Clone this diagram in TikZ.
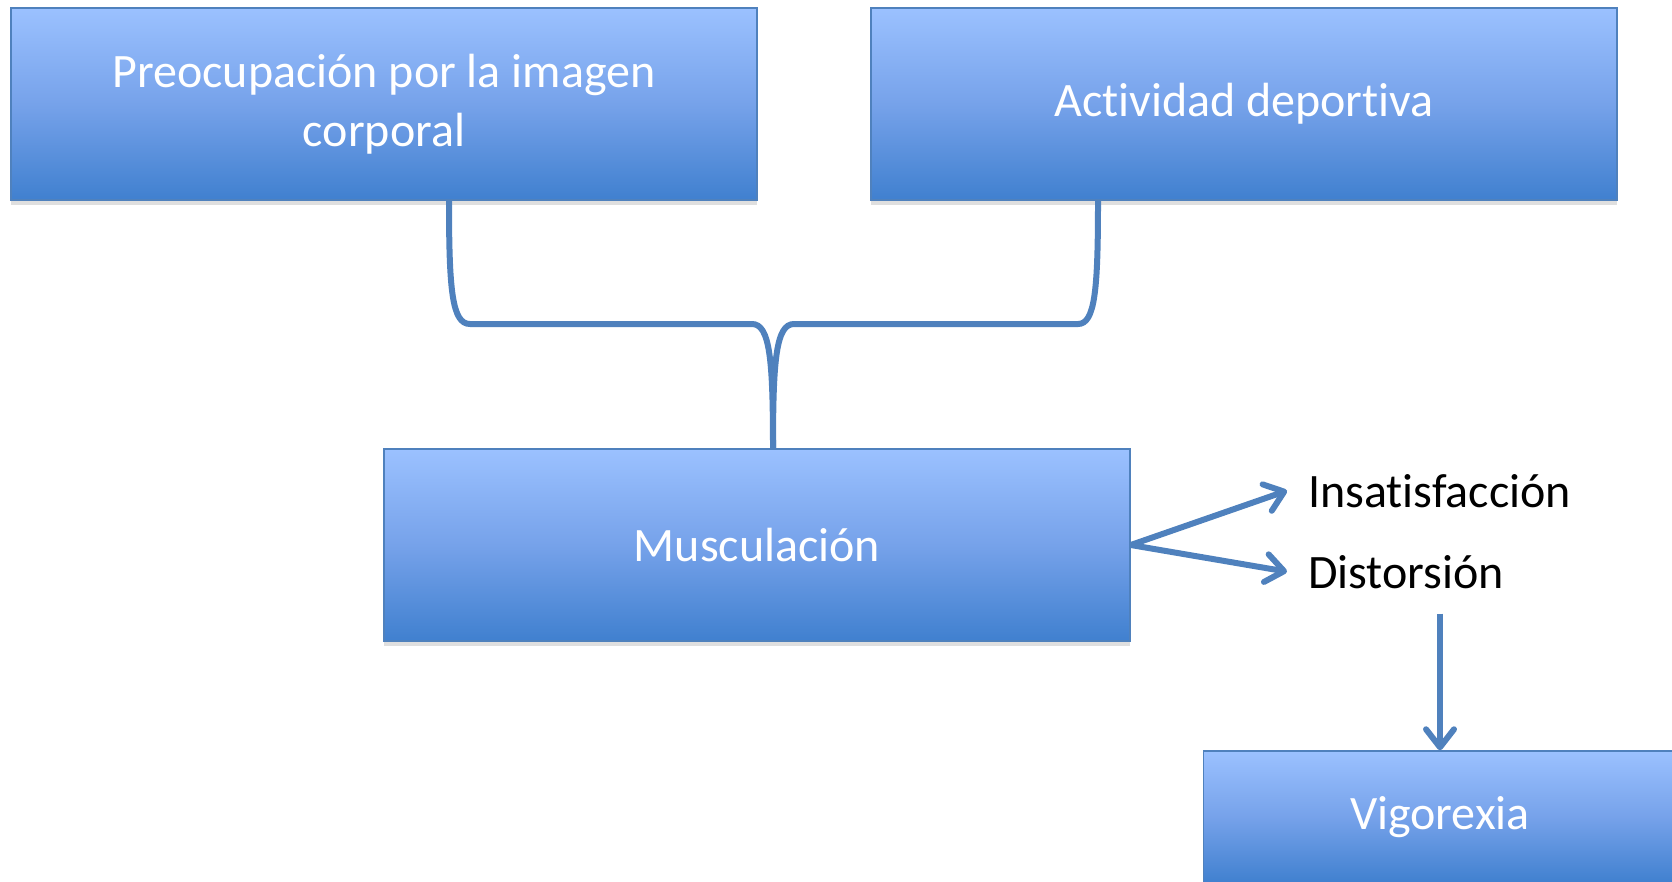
\documentclass[tikz,border=0pt]{standalone}
\usepackage{fontspec}
\setmainfont{Carlito}[Ligatures=CommonOff]
\usetikzlibrary{arrows.meta,shadows}
\definecolor{boxtop}{RGB}{155,193,255}
\definecolor{boxmid}{RGB}{118,162,234}
\definecolor{boxbot}{RGB}{64,128,207}
\definecolor{lnblue}{RGB}{79,129,189}
\tikzset{
	bluebox/.style={rectangle, draw=lnblue, line width=1.5pt, top color=boxtop, bottom color=boxbot, middle color=boxmid,
		text=white, align=center, minimum width=746pt, minimum height=192pt, inner sep=0pt,
		font=\fontsize{48}{59}\selectfont,
		drop shadow={opacity=0.25, shadow xshift=0pt, shadow yshift=-5pt}},
	sidetext/.style={anchor=base west, inner xsep=21pt, inner ysep=0pt, font=\fontsize{48}{58}\selectfont},
	brace/.style={draw=lnblue, line width=6pt},
	arr/.style={draw=lnblue, line width=6pt, -{Straight Barb[length=18pt, width=28pt, line width=6pt, round]}}
}
\begin{document}
\begin{tikzpicture}[x=1pt, y=-1pt]
	\useasboundingbox (0,0) rectangle (1672,881);
	\node[bluebox] (pre) at (384,104) {Preocupación por la imagen\\corporal};
	\node[bluebox] (dep) at (1244,104) {Actividad deportiva};
	\node[bluebox] (mus) at (757,545) {Musculación};
	\node[bluebox, minimum width=473pt, minimum height=132pt] (vig) at (1440,817) {Vigorexia};
	\node[sidetext] (ins) at (1287,507) {Insatisfacción};
	\node[sidetext] (dis) at (1287,588) {Distorsión};
	\coordinate (join) at (773,449);
	% brace from both boxes into Musculación
	\draw[brace] (pre.south -| 449,0) .. controls (449,290) and (452,324) .. (470,324) -- (752,324)
		.. controls (770,324) and (773,360) .. (join);
	\draw[brace] (dep.south -| 1098,0) .. controls (1098,290) and (1095,324) .. (1078,324) -- (794,324)
		.. controls (776,324) and (773,360) .. (join);
	\draw[arr] (mus.east) -- (ins.west);
	\draw[arr] (mus.east) -- (dis.west);
	\draw[arr] (vig.north |- dis.south) ++(0,25) -- (vig.north);
\end{tikzpicture}
\end{document}
